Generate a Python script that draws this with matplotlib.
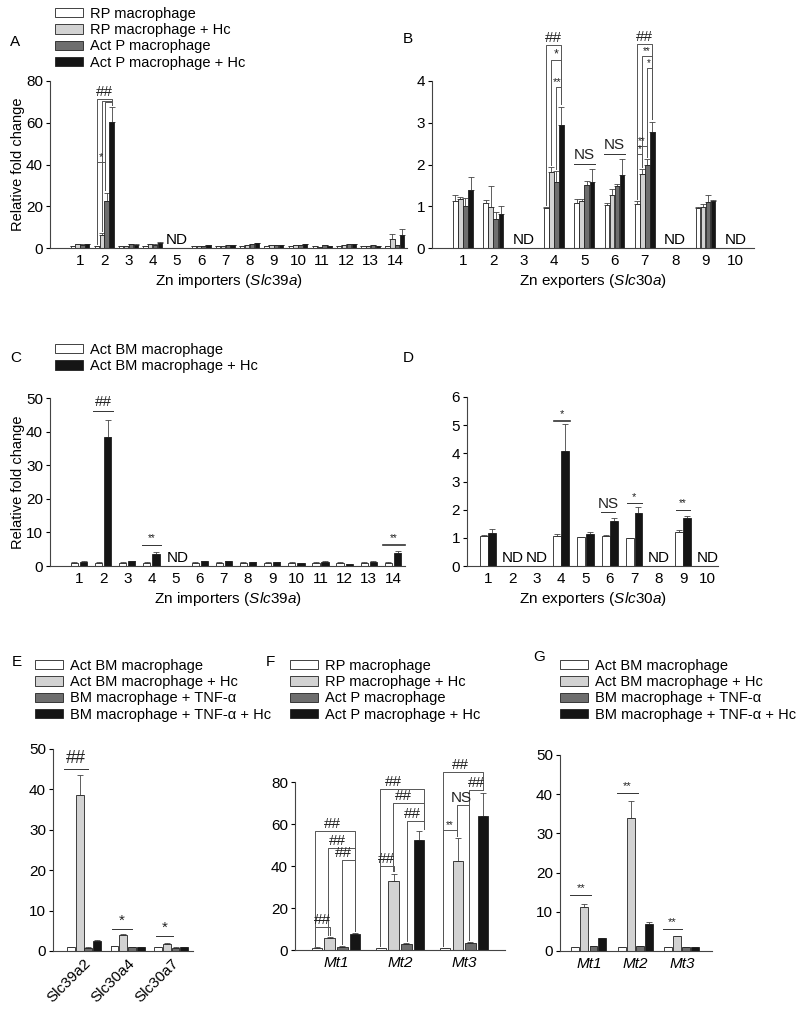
import numpy as np
import matplotlib
matplotlib.use('Agg')
import matplotlib.pyplot as plt
from matplotlib.patches import Patch

plt.rcParams['font.family'] = ['Liberation Sans', 'DejaVu Sans']
plt.rcParams['mathtext.fontset'] = 'custom'
plt.rcParams['mathtext.it'] = 'Liberation Sans:italic'
plt.rcParams['mathtext.rm'] = 'Liberation Sans'

nan = np.nan

# ---- data ----
# A: Zn importers, peritoneal macrophages
a_cats = [str(i) for i in range(1, 15)]
a_rp = [1.0, 1.0, 1.0, 1.0, nan, 1.0, 1.0, 1.0, 1.0, 1.0, 1.0, 1.0, 1.0, 1.0]
a_rp_hc = [1.8, 6.0, 1.0, 1.8, nan, 1.0, 1.0, 1.2, 1.2, 1.5, 0.5, 1.2, 0.8, 4.3]
a_actp = [1.6, 22.5, 1.8, 1.5, nan, 0.8, 1.3, 1.8, 1.5, 1.5, 1.3, 1.8, 1.5, 1.3]
a_actp_hc = [1.8, 60.5, 1.5, 2.5, nan, 1.3, 1.3, 2.2, 1.5, 1.8, 1.0, 1.8, 1.0, 6.2]
a_err = [[0.1, 0.1, 0.1, 0.1, 0, 0.1, 0.1, 0.1, 0.1, 0.1, 0.1, 0.1, 0.1, 0.1],
         [0.2, 1.0, 0.1, 0.2, 0, 0.1, 0.1, 0.1, 0.1, 0.1, 0.1, 0.1, 0.1, 2.2],
         [0.2, 4.0, 0.2, 0.2, 0, 0.1, 0.1, 0.2, 0.1, 0.1, 0.1, 0.2, 0.1, 0.2],
         [0.2, 7.2, 0.2, 0.6, 0, 0.1, 0.1, 0.3, 0.1, 0.2, 0.1, 0.2, 0.1, 3.0]]

# B: Zn exporters, peritoneal macrophages
b_cats = [str(i) for i in range(1, 11)]
b_rp = [1.13, 1.08, nan, 0.95, 1.07, 1.02, 1.05, nan, 0.95, nan]
b_rp_hc = [1.17, 0.98, nan, 1.82, 1.12, 1.28, 1.78, nan, 0.98, nan]
b_actp = [1.0, 0.70, nan, 1.58, 1.52, 1.48, 2.0, nan, 1.10, nan]
b_actp_hc = [1.40, 0.82, nan, 2.95, 1.58, 1.74, 2.78, nan, 1.13, nan]
b_err = [[0.14, 0.07, 0, 0.03, 0.11, 0.05, 0.07, 0, 0.03, 0],
         [0.05, 0.50, 0, 0.13, 0.06, 0.14, 0.12, 0, 0.07, 0],
         [0.20, 0.17, 0, 0.27, 0.08, 0.05, 0.12, 0, 0.18, 0],
         [0.30, 0.18, 0, 0.43, 0.32, 0.38, 0.24, 0, 0.02, 0]]

# C: Zn importers, BM macrophages
c_cats = [str(i) for i in range(1, 15)]
c_bm = [1.0, 1.0, 1.0, 1.0, nan, 1.0, 1.0, 1.0, 1.0, 1.0, 1.0, 1.0, 1.0, 1.0]
c_bm_hc = [1.3, 38.5, 1.4, 3.5, nan, 1.5, 1.4, 1.2, 1.1, 0.9, 1.3, 0.5, 1.3, 4.0]
c_err = [[0.1] * 14,
         [0.1, 5.0, 0.1, 0.7, 0, 0.1, 0.1, 0.1, 0.1, 0.1, 0.1, 0.1, 0.1, 0.5]]

# D: Zn exporters, BM macrophages
d_cats = [str(i) for i in range(1, 11)]
d_bm = [1.05, nan, nan, 1.08, 1.02, 1.07, 1.0, nan, 1.2, nan]
d_bm_hc = [1.18, nan, nan, 4.1, 1.12, 1.6, 1.87, nan, 1.72, nan]
d_err = [[0.05, 0, 0, 0.07, 0.01, 0.02, 0.01, 0, 0.08, 0],
         [0.12, 0, 0, 0.95, 0.10, 0.12, 0.21, 0, 0.06, 0]]

# E: BM macrophages +/- TNF-a
e_cats = ['Slc39a2', 'Slc30a4', 'Slc30a7']
e_bm = [1.0, 1.2, 1.0]
e_bm_hc = [38.5, 4.0, 1.8]
e_tnf = [0.8, 1.0, 0.8]
e_tnf_hc = [2.5, 1.0, 1.0]
e_err = [[0.1, 0.1, 0.1], [5.0, 0.1, 0.1], [0.1, 0.1, 0.1], [0.1, 0.1, 0.1]]

# F: metallothioneins, peritoneal macrophages
f_cats = ['Mt1', 'Mt2', 'Mt3']
f_rp = [1.0, 1.0, 0.8]
f_rp_hc = [5.8, 33.0, 42.5]
f_actp = [1.5, 3.0, 3.5]
f_actp_hc = [7.8, 52.5, 64.0]
f_err = [[0.2, 0.1, 0.1], [0.4, 3.3, 11.0], [0.2, 0.3, 0.3], [0.4, 4.0, 11.0]]

# G: metallothioneins, BM macrophages +/- TNF-a
g_cats = ['Mt1', 'Mt2', 'Mt3']
g_bm = [1.0, 1.0, 1.0]
g_bm_hc = [11.2, 34.0, 3.8]
g_tnf = [1.3, 1.3, 1.0]
g_tnf_hc = [3.2, 7.0, 1.0]
g_err = [[0.1, 0.1, 0.1], [0.8, 4.3, 0.1], [0.1, 0.1, 0.1], [0.1, 0.3, 0.1]]

lab_pm = ['RP macrophage', 'RP macrophage + Hc', 'Act P macrophage', 'Act P macrophage + Hc']
lab_bm2 = ['Act BM macrophage', 'Act BM macrophage + Hc']
lab_tnf = ['Act BM macrophage', 'Act BM macrophage + Hc', 'BM macrophage + TNF-\u03b1',
           'BM macrophage + TNF-\u03b1 + Hc']

col4 = ['white', '#d2d2d2', '#6e6e6e', '#151515']
col2 = ['white', '#151515']
brk = '#555555'

W, H = 800, 1016
fig = plt.figure(figsize=(8, 10.16), dpi=100)


def make_ax(x0, x1, y0, y1):
    ax = fig.add_axes([x0 / W, 1 - y1 / H, (x1 - x0) / W, (y1 - y0) / H])
    ax.spines['top'].set_visible(False)
    ax.spines['right'].set_visible(False)
    for s in ['left', 'bottom']:
        ax.spines[s].set_linewidth(0.8)
        ax.spines[s].set_color('#444444')
    ax.tick_params(axis='y', length=3, width=0.8, labelsize=11, pad=2)
    ax.tick_params(axis='x', length=0, labelsize=11, pad=4)
    return ax


def draw_bars(ax, series, errs, colors, width, offsets):
    x = np.arange(len(series[0]))
    for s, e, c, o in zip(series, errs, colors, offsets):
        vals = np.array(s, dtype=float)
        ax.bar(x + o, np.nan_to_num(vals), width, color=c, edgecolor='#222222',
               linewidth=0.6, zorder=2)
        ok = ~np.isnan(vals)
        ax.errorbar((x + o)[ok], vals[ok], yerr=[np.zeros(ok.sum()), np.array(e)[ok]],
                    fmt='none', ecolor='#444444', elinewidth=0.6, capsize=2,
                    capthick=0.6, zorder=1)


def hline(ax, x1, x2, y, txt, fs=11, dy=0.0, lw=0.7):
    ax.plot([x1, x2], [y, y], color='#333333', lw=lw, clip_on=False)
    ax.text((x1 + x2) / 2, y + dy, txt, ha='center', va='bottom', fontsize=fs,
            color='#222222', clip_on=False)


def bracket(ax, x1, x2, y, yl, yr, txt, fs=11, tx=None):
    ax.plot([x1, x1, x2, x2], [yl, y, y, yr], color=brk, lw=0.7, clip_on=False)
    if txt:
        ax.text((x1 + x2) / 2 if tx is None else tx, y, txt, ha='center',
                va='bottom', fontsize=fs, color='#222222', clip_on=False)


def legend(ax, labels, colors, x, y):
    handles = [Patch(facecolor=c, edgecolor='#222222', linewidth=0.6) for c in colors]
    ax.legend(handles, labels, loc='upper left', bbox_to_anchor=(x, y),
              bbox_transform=fig.transFigure, frameon=False, fontsize=10.5,
              handlelength=1.9, handleheight=0.6, handletextpad=0.5,
              labelspacing=0.15, borderaxespad=0, borderpad=0)


xlab_imp = r'Zn importers ($\mathit{Slc39a}$)'
xlab_exp = r'Zn exporters ($\mathit{Slc30a}$)'

# ---------- A ----------
axA = make_ax(50, 407, 81, 248)
offs4 = [-0.3, -0.1, 0.1, 0.3]
draw_bars(axA, [a_rp, a_rp_hc, a_actp, a_actp_hc], a_err, col4, 0.18, offs4)
axA.set_xlim(-1.24, 13.5)
axA.set_ylim(0, 80)
axA.set_yticks([0, 20, 40, 60, 80])
axA.set_xticks(range(14))
axA.set_xticklabels(a_cats)
axA.set_ylabel('Relative fold change', fontsize=10.5, labelpad=1)
axA.set_xlabel(xlab_imp, fontsize=11, labelpad=3)
axA.text(4, 0.5, 'ND', ha='center', va='bottom', fontsize=11)
bracket(axA, 0.7, 1.3, 71.5, 2, 68.5, '##', fs=11)
bracket(axA, 0.9, 1.3, 70.5, 8, 68.5, '')
bracket(axA, 1.05, 1.3, 70.0, 28, 68.5, '')
bracket(axA, 0.7, 1.05, 41, 2, 28, '*', fs=8)
legend(axA, lab_pm, col4, 55 / W, 1 - 7 / H)
fig.text(10 / W, 1 - 42 / H, 'A', fontsize=11, va='center')

# ---------- B ----------
axB = make_ax(432, 754, 81, 248)
offs4b = [-0.25, -0.083, 0.083, 0.25]
draw_bars(axB, [b_rp, b_rp_hc, b_actp, b_actp_hc], b_err, col4, 0.15, offs4b)
axB.set_xlim(-1.02, 9.6)
axB.set_ylim(0, 4)
axB.set_yticks([0, 1, 2, 3, 4])
axB.set_xticks(range(10))
axB.set_xticklabels(b_cats)
axB.set_xlabel(xlab_exp, fontsize=11, labelpad=3)
for i in [2, 7, 9]:
    axB.text(i, 0.02, 'ND', ha='center', va='bottom', fontsize=11)
# Slc30a4
bracket(axB, 3 - 0.26, 3 + 0.25, 4.86, 1.02, 3.45, '##', fs=11)
bracket(axB, 3 - 0.08, 3 + 0.25, 4.5, 2.0, 3.45, '*', fs=9)
bracket(axB, 3 + 0.08, 3 + 0.25, 3.85, 1.9, 3.45, '**', fs=8, tx=3.12)
# Slc30a7
bracket(axB, 6 - 0.26, 6 + 0.25, 4.89, 1.18, 3.08, '##', fs=11)
bracket(axB, 6 - 0.08, 6 + 0.25, 4.6, 1.95, 3.08, '**', fs=7, tx=6.05)
bracket(axB, 6 + 0.08, 6 + 0.25, 4.3, 2.18, 3.08, '*', fs=7, tx=6.14)
bracket(axB, 6 - 0.26, 6 + 0.08, 2.45, 1.18, 2.18, '**', fs=7, tx=5.91)
bracket(axB, 6 - 0.26, 6 - 0.08, 2.25, 1.18, 1.95, '*', fs=7, tx=5.84)
hline(axB, 4 - 0.35, 4 + 0.35, 2.01, 'NS', fs=11, dy=0.06)
hline(axB, 5 - 0.35, 5 + 0.35, 2.24, 'NS', fs=11, dy=0.06)
fig.text(403 / W, 1 - 39 / H, 'B', fontsize=11, va='center')

# ---------- C ----------
axC = make_ax(50, 405, 398, 566)
offs2 = [-0.19, 0.19]
draw_bars(axC, [c_bm, c_bm_hc], c_err, col2, 0.3, offs2)
axC.set_xlim(-1.2, 13.5)
axC.set_ylim(0, 50)
axC.set_yticks([0, 10, 20, 30, 40, 50])
axC.set_xticks(range(14))
axC.set_xticklabels(c_cats)
axC.set_ylabel('Relative fold change', fontsize=10.5, labelpad=1)
axC.set_xlabel(xlab_imp, fontsize=11, labelpad=3)
axC.text(3.65, 0.3, 'ND', ha='left', va='bottom', fontsize=11)
hline(axC, 1 - 0.4, 1 + 0.4, 46.2, '##', fs=11, dy=0.5)
hline(axC, 3 - 0.4, 3 + 0.4, 6.2, '**', fs=7, dy=0.5)
hline(axC, 13 - 0.4, 13 + 0.5, 6.2, '**', fs=7, dy=0.5, lw=1.2)
legend(axC, lab_bm2, col2, 55 / W, 1 - 343 / H)
fig.text(10 / W, 1 - 358 / H, 'C', fontsize=11, va='center')

# ---------- D ----------
axD = make_ax(467, 718, 397, 566)
draw_bars(axD, [d_bm, d_bm_hc], d_err, col2, 0.32, [-0.17, 0.17])
axD.set_xlim(-0.86, 9.43)
axD.set_ylim(0, 6)
axD.set_yticks([0, 1, 2, 3, 4, 5, 6])
axD.set_xticks(range(10))
axD.set_xticklabels(d_cats)
axD.set_xlabel(xlab_exp, fontsize=11, labelpad=3)
for i in [1, 2, 7, 9]:
    axD.text(i, 0.02, 'ND', ha='center', va='bottom', fontsize=11)
hline(axD, 3 - 0.3, 3 + 0.35, 5.15, '*', fs=8, dy=0.05, lw=1.2)
hline(axD, 5 - 0.35, 5 + 0.2, 1.9, 'NS', fs=11, dy=0.05)
hline(axD, 6 - 0.3, 6 + 0.3, 2.23, '*', fs=8, dy=0.05)
hline(axD, 8 - 0.3, 8 + 0.3, 1.99, '**', fs=7, dy=0.05)
fig.text(403 / W, 1 - 358 / H, 'D', fontsize=11, va='center')

# ---------- E ----------
axE = make_ax(53, 193, 749, 951)
offsE = [-0.3, -0.1, 0.1, 0.3]
draw_bars(axE, [e_bm, e_bm_hc, e_tnf, e_tnf_hc], e_err, col4, 0.18, offsE)
axE.set_xlim(-0.71, 2.5)
axE.set_ylim(0, 50)
axE.set_yticks([0, 10, 20, 30, 40, 50])
axE.set_xticks(range(3))
axE.set_xticklabels(e_cats, rotation=45, ha='right', rotation_mode='anchor')
hline(axE, -0.45, 0.1, 45, '##', fs=13, dy=0.5)
hline(axE, 1 - 0.35, 1 + 0.1, 5.4, '*', fs=11, dy=0.3)
hline(axE, 2 - 0.35, 2 + 0.05, 3.6, '*', fs=11, dy=0.3)
legend(axE, lab_tnf, col4, 35 / W, 1 - 659 / H)
fig.text(12 / W, 1 - 662 / H, 'E', fontsize=11, va='center')

# ---------- F ----------
axF = make_ax(295, 505, 782, 950)
offsF = [-0.3, -0.1, 0.1, 0.3]
draw_bars(axF, [f_rp, f_rp_hc, f_actp, f_actp_hc], f_err, col4, 0.16, offsF)
axF.set_xlim(-0.64, 2.64)
axF.set_ylim(0, 80)
axF.set_yticks([0, 20, 40, 60, 80])
axF.set_xticks(range(3))
axF.set_xticklabels(f_cats, fontstyle='italic')
# Mt1
bracket(axF, -0.33, 0.3, 56.7, 2, 9, '##', fs=11, tx=-0.06)
bracket(axF, -0.12, 0.3, 48.6, 7, 9, '##', fs=11, tx=0.02)
bracket(axF, 0.1, 0.3, 42.9, 3, 9, '##', fs=11, tx=0.12)
bracket(axF, -0.33, -0.1, 10.8, 2, 7, '##', fs=11)
# Mt2
bracket(axF, 1 - 0.31, 1 + 0.37, 76.7, 2, 57.5, '##', fs=11, tx=0.9)
bracket(axF, 1 - 0.11, 1 + 0.37, 70.0, 37.5, 57.5, '##', fs=11, tx=1.06)
bracket(axF, 1 + 0.11, 1 + 0.37, 61.4, 4.5, 57.5, '##', fs=11, tx=1.2)
bracket(axF, 1 - 0.31, 1 - 0.1, 40, 2, 37.5, '##', fs=11)
# Mt3
bracket(axF, 2 - 0.33, 2 + 0.3, 84.8, 2, 76, '##', fs=11, tx=1.95)
bracket(axF, 2 + 0.08, 2 + 0.3, 76.2, 5, 76, '##', fs=11, tx=2.2)
bracket(axF, 2 - 0.11, 2 + 0.08, 69.0, 54.5, 5, 'NS', fs=11, tx=1.95)
bracket(axF, 2 - 0.33, 2 - 0.11, 57.0, 2, 54.5, '**', fs=7)
legend(axF, lab_pm, col4, 290 / W, 1 - 659 / H)
fig.text(266 / W, 1 - 662 / H, 'F', fontsize=11, va='center')

# ---------- G ----------
axG = make_ax(560, 712, 755, 951)
offsG = [-0.29, -0.1, 0.1, 0.29]
draw_bars(axG, [g_bm, g_bm_hc, g_tnf, g_tnf_hc], g_err, col4, 0.17, offsG)
axG.set_xlim(-0.62, 2.65)
axG.set_ylim(0, 50)
axG.set_yticks([0, 10, 20, 30, 40, 50])
axG.set_xticks(range(3))
axG.set_xticklabels(g_cats, fontstyle='italic')
hline(axG, -0.4, 0.05, 14.2, '**', fs=8, dy=0.5)
hline(axG, 1 - 0.4, 1 + 0.05, 40.3, '**', fs=8, dy=0.5)
hline(axG, 2 - 0.4, 2 - 0.0, 5.5, '**', fs=8, dy=0.5)
legend(axG, lab_tnf, col4, 560 / W, 1 - 659 / H)
fig.text(533 / W, 1 - 657 / H, 'G', fontsize=11, va='center')

fig.savefig('out.png', dpi=100)
